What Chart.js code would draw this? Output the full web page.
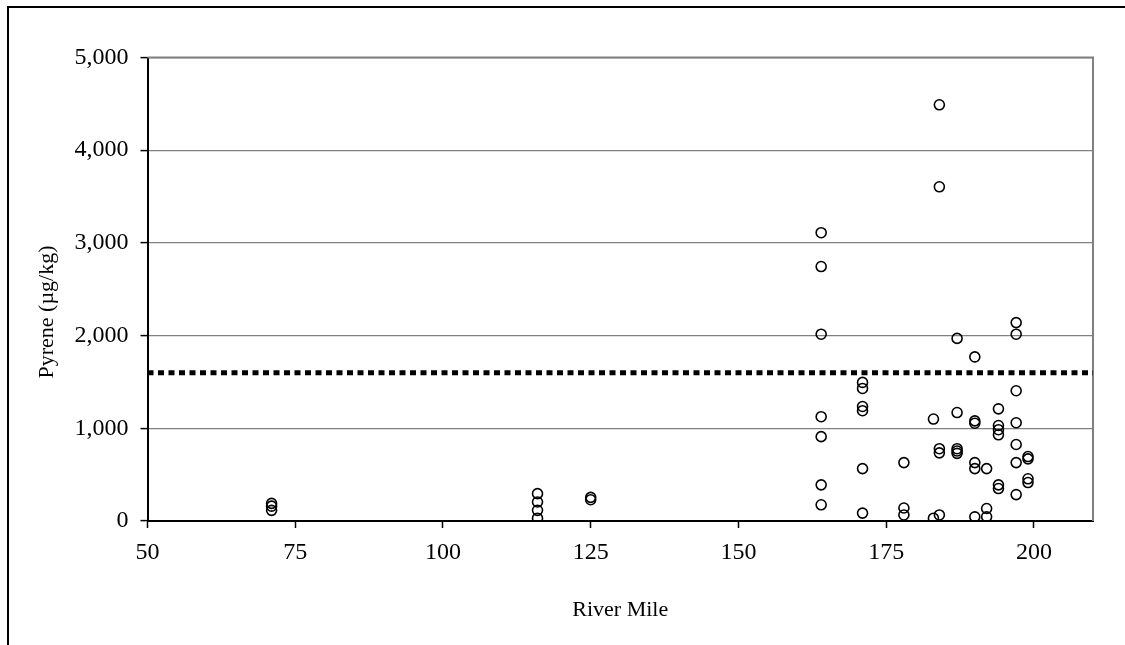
<!DOCTYPE html>
<html>
<head>
<meta charset="utf-8">
<script src="https://cdn.jsdelivr.net/npm/chart.js@4"></script>
<style>
  html, body { margin: 0; padding: 0; background: #fff; }
  #wrap { position: relative; width: 1125px; height: 645px; }
</style>
</head>
<body>
<div id="wrap"><canvas id="c" width="1125" height="645"></canvas></div>
<script>
// sample locations (river mile) and pyrene results
const riverMile = [
    71, 71, 71,
    116, 116, 116, 116,
    125, 125,
    164, 164, 164, 164, 164, 164, 164,
    171, 171, 171, 171, 171, 171,
    178, 178, 178,
    183, 183,
    184, 184, 184, 184, 184,
    187, 187, 187, 187, 187,
    190, 190, 190, 190, 190, 190,
    192, 192, 192,
    194, 194, 194, 194, 194, 194,
    197, 197, 197, 197, 197, 197, 197,
    199, 199, 199, 199
];
const pyrene = [
    190, 160, 115,
    295, 205, 115, 30,
    255, 230,
    3110, 2745, 2015, 1125, 910, 390, 175,
    1495, 1430, 1235, 1190, 565, 85,
    630, 140, 65,
    1100, 30,
    4490, 3605, 780, 735, 65,
    1970, 1170, 780, 755, 730,
    1770, 1080, 1055, 630, 565, 45,
    565, 135, 45,
    1210, 1030, 985, 930, 390, 350,
    2140, 2015, 1405, 1060, 825, 630, 285,
    695, 670, 455, 415
];

// screening level (dotted line)
const screeningLevel = 1600;
const xRange = [50, 210];
const xTicks = [50, 75, 100, 125, 150, 175, 200];
const yTicks = [0, 1000, 2000, 3000, 4000, 5000];
const yTitle = 'Pyrene (µg/kg)';

const FAMILY = "'Liberation Serif', 'Times New Roman', serif";
const TICK_FONT = { family: FAMILY, size: 24 };
const TITLE_FONT = { family: FAMILY, size: 22 };

// outer frame, plot-area right edge, and the y title (sits a bit below centre)
const framePlugin = {
    id: 'frame',
    beforeDraw(chart) {
        const ctx = chart.ctx;
        ctx.save();
        ctx.strokeStyle = '#000';
        ctx.lineWidth = 2;
        ctx.beginPath();
        ctx.moveTo(8, 645);
        ctx.lineTo(8, 7);
        ctx.lineTo(1125, 7);
        ctx.stroke();

        ctx.translate(47, 312);
        ctx.rotate(-Math.PI / 2);
        ctx.fillStyle = '#000';
        ctx.font = TITLE_FONT.size + 'px ' + FAMILY;
        ctx.textAlign = 'center';
        ctx.textBaseline = 'middle';
        ctx.fillText(yTitle, 0, 0);
        ctx.restore();
    },
    beforeDatasetsDraw(chart) {
        const a = chart.chartArea;
        const ctx = chart.ctx;
        ctx.save();
        ctx.strokeStyle = '#808080';
        ctx.lineWidth = 2;
        ctx.beginPath();
        ctx.moveTo(a.left, a.top);
        ctx.lineTo(a.right, a.top);
        ctx.lineTo(a.right, a.bottom);
        ctx.stroke();
        ctx.restore();
    }
};

const points = riverMile.map((m, i) => ({ x: m, y: pyrene[i] }));

new Chart(document.getElementById('c'), {
    type: 'scatter',
    data: {
        datasets: [
            {
                label: 'Pyrene',
                data: points,
                pointStyle: 'circle',
                pointRadius: 5,
                pointBorderWidth: 1.6,
                pointBorderColor: '#000',
                pointBackgroundColor: 'rgba(0,0,0,0)',
                order: 1
            },
            {
                type: 'line',
                label: 'Screening level',
                data: [{ x: xRange[0], y: screeningLevel }, { x: xRange[1], y: screeningLevel }],
                borderColor: '#000',
                borderWidth: 5,
                borderDash: [6, 4.5],
                pointRadius: 0,
                fill: false,
                order: 2
            }
        ]
    },
    options: {
        responsive: false,
        animation: false,
        devicePixelRatio: 1,
        layout: { padding: { left: 0, top: 57.5, right: 32, bottom: 0 } },
        plugins: {
            legend: { display: false },
            tooltip: { enabled: false }
        },
        scales: {
            x: {
                type: 'linear',
                min: xRange[0],
                max: xRange[1],
                afterBuildTicks: (scale) => { scale.ticks = xTicks.map(v => ({ value: v })); },
                afterFit: (scale) => { scale.height = 124; },
                grid: { drawOnChartArea: false, drawTicks: true, tickLength: 7, tickColor: '#000', tickWidth: 1.5 },
                border: { color: '#000', width: 2 },
                ticks: { color: '#000', font: TICK_FONT, padding: 10, maxRotation: 0 },
                title: { display: true, text: 'River Mile', color: '#000', font: TITLE_FONT, padding: { top: 0, bottom: 22 } }
            },
            y: {
                min: 0,
                max: 5000,
                afterBuildTicks: (scale) => { scale.ticks = yTicks.map(v => ({ value: v })); },
                afterFit: (scale) => { scale.width = 147.5; },
                grid: { color: '#808080', lineWidth: 1.2, drawTicks: true, tickLength: 7, tickColor: '#000', tickWidth: 1.5 },
                border: { color: '#000', width: 2 },
                ticks: {
                    color: '#000',
                    font: TICK_FONT,
                    padding: 12,
                    callback: (v) => v.toLocaleString('en-US')
                },
                title: { display: false }
            }
        }
    },
    plugins: [framePlugin]
});
</script>
</body>
</html>
